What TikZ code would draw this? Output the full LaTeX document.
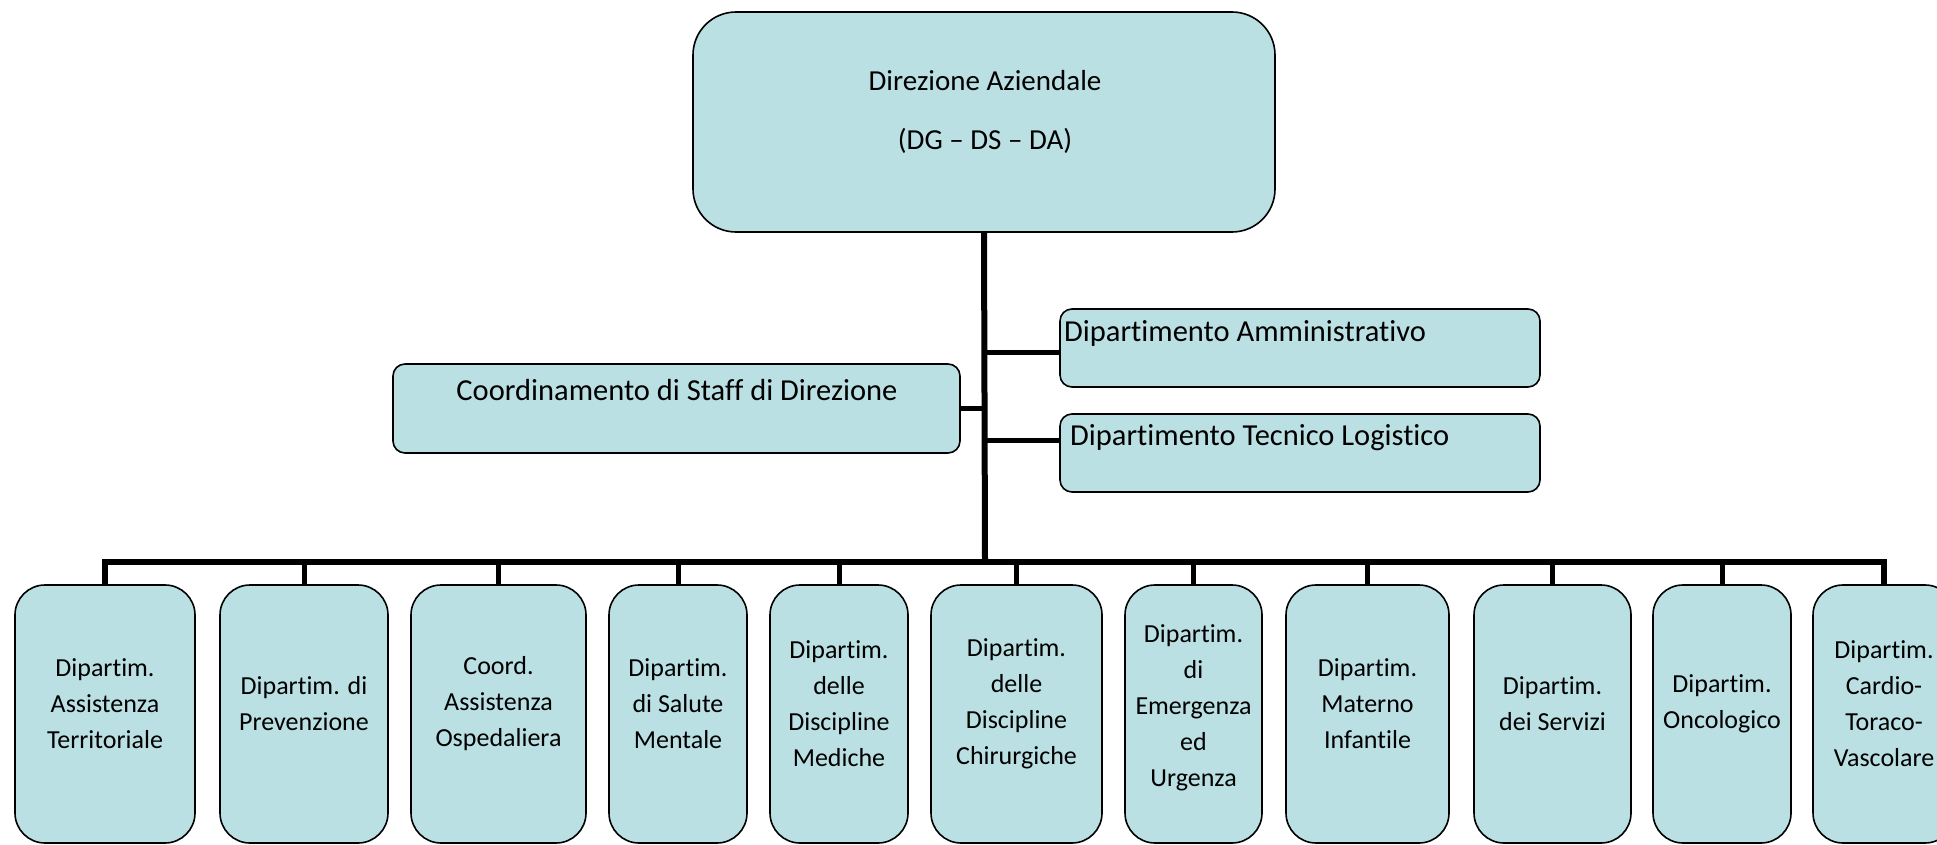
\documentclass[tikz,border=0pt]{standalone}
\usepackage{fontspec}
\setmainfont{Carlito}[Ligatures={NoCommon,NoContextual,NoRequired},Contextuals=NoAlternate]
\definecolor{boxfill}{RGB}{186,224,227}
\begin{document}
\begin{tikzpicture}[x=1pt,y=-1pt,
  box/.style={draw=black, line width=1.6pt, fill=boxfill, rounded corners=#1, inner sep=0pt},
  box/.default=30pt,
  dept/.style={box=30pt, minimum height=258pt},
  link/.style={line width=6pt},
  drop/.style={line width=5pt},
  btxt/.style={align=center, font=\fontsize{26}{36}\selectfont, inner sep=0pt},
  mtxt/.style={font=\fontsize{30.5}{36}\selectfont, inner sep=0pt, anchor=west}]
\useasboundingbox (0,0) rectangle (1937,845);

% top
\node[box=43pt, minimum width=582pt, minimum height=220pt] (dir) at (984,122) {};
\node[align=center, font=\fontsize{29}{59}\selectfont, inner sep=0pt] (dirt) at (985,111.5) {Direzione Aziendale\\(DG – DS – DA)};

% middle
\node[box=12pt, minimum width=567pt, minimum height=89pt] (staff) at (676.5,408.5) {};
\node[font=\fontsize{30.5}{36}\selectfont, inner sep=0pt] (stafft) at (677,390) {Coordinamento di Staff di Direzione};
\node[box=12pt, minimum width=480pt, minimum height=78pt] (amm) at (1300,348) {};
\node[mtxt] (ammt) at (1064,333) {Dipartimento Amministrativo};
\node[box=12pt, minimum width=480pt, minimum height=78pt] (tec) at (1300,453) {};
\node[mtxt] (tect) at (1070,438) {Dipartimento Tecnico Logistico};

% bottom
\node[dept, minimum width=180pt] (b1) at (105,714) {};
\node[btxt] (t1) at (105,704) {Dipartim.\\Assistenza\\Territoriale};
\node[dept, minimum width=168pt] (b2) at (304,714) {};
\node[btxt] (t2) at (304,704) {Dipartim. di\\Prevenzione};
\node[dept, minimum width=175pt] (b3) at (498.5,714) {};
\node[btxt] (t3) at (498.5,704) {Coord.\\Assistenza\\Ospedaliera};
\node[dept, minimum width=138pt] (b4) at (678,714) {};
\node[btxt] (t4) at (678,704) {Dipartim.\\di Salute\\Mentale};
\node[dept, minimum width=138pt] (b5) at (839,714) {};
\node[btxt] (t5) at (839,704) {Dipartim.\\delle\\Discipline\\Mediche};
\node[dept, minimum width=171pt] (b6) at (1016.5,714) {};
\node[btxt] (t6) at (1016.5,704) {Dipartim.\\delle\\Discipline\\Chirurgiche};
\node[dept, minimum width=137pt] (b7) at (1193.5,714) {};
\node[btxt] (t7) at (1193.5,708) {Dipartim.\\di\\Emergenza\\ed\\Urgenza};
\node[dept, minimum width=163pt] (b8) at (1367.5,714) {};
\node[btxt] (t8) at (1367.5,704) {Dipartim.\\Materno\\Infantile};
\node[dept, minimum width=157pt] (b9) at (1552.5,714) {};
\node[btxt] (t9) at (1552.5,704) {Dipartim.\\dei Servizi};
\node[dept, minimum width=138pt] (b10) at (1722,714) {};
\node[btxt] (t10) at (1722,704) {Dipartim.\\Oncologico};
\node[dept, minimum width=142pt] (b11) at (1884,714) {};
\node[btxt] (t11) at (1884,704) {Dipartim.\\Cardio-\\Toraco-\\Vascolare};

% connectors
\coordinate (bus) at (985,562);
\draw[link] (dir.south) -- (bus);
\draw[link] (b1.north) |- (bus) -| (b11.north);
\foreach \b in {b2,b3,b4,b5,b6,b7,b8,b9,b10}
  \draw[drop] (\b.north) -- (\b.north |- bus);
\draw[drop] (dir.south |- 0,352) -- (amm.west |- 0,352);
\draw[drop] (dir.south |- 0,440) -- (tec.west |- 0,440);
\draw[drop] (staff.east |- 0,408) -- (dir.south |- 0,408);
\end{tikzpicture}
\end{document}
